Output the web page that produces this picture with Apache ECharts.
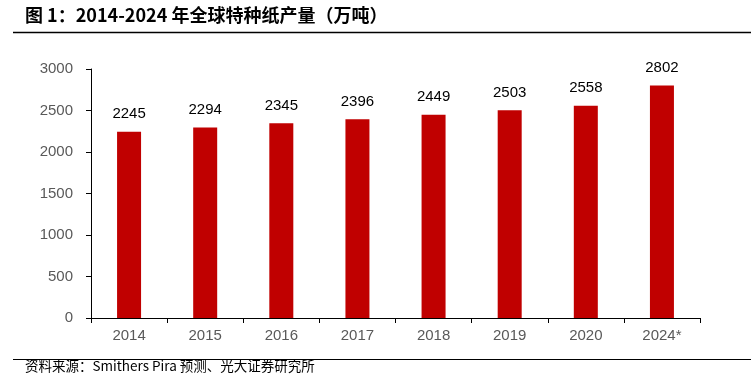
<!DOCTYPE html>
<html><head><meta charset="utf-8">
<script src="https://cdn.jsdelivr.net/npm/echarts@6/dist/echarts.min.js"></script>
<style>html,body{margin:0;padding:0;background:#fff}#c{width:751px;height:391px}</style>
</head><body><div id="c"></div>
<script>
const categories = ['2014','2015','2016','2017','2018','2019','2020','2024*'];
const production = [2245,2294,2345,2396,2449,2503,2558,2802];
const yTicks = [0,500,1000,1500,2000,2500,3000];
const titleText = '图 1：2014-2024 年全球特种纸产量（万吨）';
const sourceText = '资料来源：Smithers Pira 预测、光大证券研究所';

const chart = echarts.init(document.getElementById('c'));
chart.setOption({
  animation: false,
  backgroundColor: '#fff',
  grid: {left: 91, right: 51, top: 69, bottom: 73},
  graphic: [
    {type: 'text', left: 25, top: 6, style: {text: titleText, font: 'bold 18px "Noto Sans CJK SC"', fill: '#000'}},
    {type: 'line', shape: {x1: 13, y1: 32.5, x2: 751, y2: 32.5}, style: {stroke: '#000', lineWidth: 1.5}},
    {type: 'line', shape: {x1: 13, y1: 359.5, x2: 751, y2: 359.5}, style: {stroke: '#000', lineWidth: 1}},
    {type: 'text', left: 25, top: 359, style: {text: sourceText, font: '13.5px "Noto Sans CJK SC"', fill: '#000'}}
  ],
  xAxis: {
    type: 'category', data: categories,
    axisLine: {lineStyle: {color: '#000', width: 1}},
    axisTick: {show: true, length: 5, lineStyle: {color: '#000'}},
    axisLabel: {color: '#595959', fontSize: 15, fontFamily: 'Liberation Sans', margin: 10}
  },
  yAxis: {
    type: 'value', min: yTicks[0], max: yTicks[yTicks.length-1], interval: 500,
    splitLine: {show: false},
    axisLine: {show: true, lineStyle: {color: '#000', width: 1}},
    axisTick: {show: true, length: 5, lineStyle: {color: '#000'}},
    axisLabel: {color: '#595959', fontSize: 15, fontFamily: 'Liberation Sans', margin: 18, formatter: v => String(v)}
  },
  series: [{
    type: 'bar', data: production, barWidth: 24,
    itemStyle: {color: '#C00000'},
    label: {show: true, position: 'top', distance: 10, color: '#000', fontSize: 15, fontFamily: 'Liberation Sans'}
  }]
});
</script></body></html>
